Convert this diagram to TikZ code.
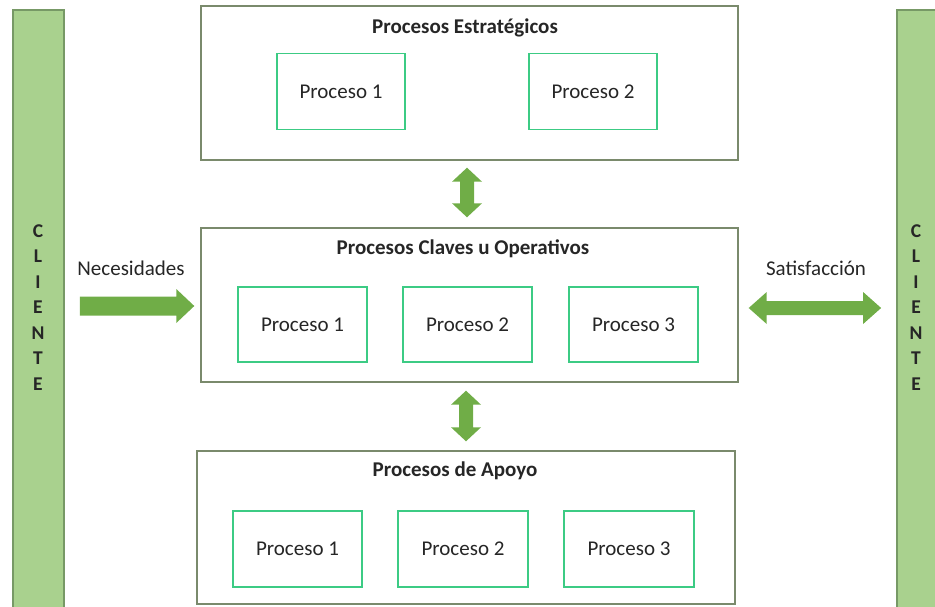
\documentclass[tikz,border=0pt]{standalone}
\usepackage{fontspec}
\setmainfont{Carlito}
\usetikzlibrary{calc}
\definecolor{barfill}{HTML}{A9D18E}
\definecolor{barline}{HTML}{779966}
\definecolor{outerline}{HTML}{7A8A6C}
\definecolor{innerline}{HTML}{3CCB84}
\definecolor{arrowfill}{HTML}{70AD47}
\definecolor{txt}{HTML}{262626}
\tikzset{
  clientbar/.style={draw=barline, line width=1.8pt, fill=barfill, minimum width=51pt, minimum height=600pt, inner sep=0pt},
  clientword/.style={font=\fontsize{19.5}{25.5}\selectfont\bfseries, text=txt, align=center, inner sep=0pt},
  groupbox/.style={draw=outerline, line width=1.4pt, fill=white, minimum width=537pt, minimum height=154pt, inner sep=0pt},
  procbox/.style={draw=innerline, line width=1.3pt, minimum width=128pt, minimum height=76pt, inner sep=0pt,
    font=\fontsize{21}{24}\selectfont, text=txt},
  grouptitle/.style={font=\fontsize{21}{24}\selectfont\bfseries, text=txt, inner sep=0pt},
  flowlabel/.style={font=\fontsize{21}{24}\selectfont, text=txt, inner sep=0pt},
  blockarrow/.style={fill=arrowfill, draw=none},
}
\begin{document}
\begin{tikzpicture}[x=1pt,y=-1pt]
\useasboundingbox (0,0) rectangle (935,607);

% customer bars on both sides
\node[clientbar] (lbar) at (38.5,310) {};
\node[clientbar] (rbar) at (922.5,310) {};
\node[clientword] (lword) at (38,307.5) {C\\L\\I\\E\\N\\T\\E};
\node[clientword] (rword) at (916,307.5) {C\\L\\I\\E\\N\\T\\E};

% strategic processes
\node[groupbox] (top) at (469.5,83) {};
\node[grouptitle] (toptitle) at (465,28) {Procesos Estratégicos};
\node[procbox] (t1) at (341,91.5) {Proceso 1};
\node[procbox] (t2) at (593,91.5) {Proceso 2};

% key / operative processes
\node[groupbox] (mid) at (469.5,305) {};
\node[grouptitle] (midtitle) at (463,249) {Procesos Claves u Operativos};
\node[procbox, minimum width=129pt, minimum height=75pt] (m1) at (302.5,324.5) {Proceso 1};
\node[procbox, minimum width=129pt, minimum height=75pt] (m2) at (467.5,324.5) {Proceso 2};
\node[procbox, minimum width=129pt, minimum height=75pt] (m3) at (633.5,324.5) {Proceso 3};

% support processes
\node[groupbox, minimum width=538pt, minimum height=153pt] (bot) at (466,527.5) {};
\node[grouptitle] (bottitle) at (455,471) {Procesos de Apoyo};
\node[procbox, minimum width=129pt] (b1) at (297.5,549) {Proceso 1};
\node[procbox, minimum width=130pt] (b2) at (463,549) {Proceso 2};
\node[procbox, minimum width=130pt] (b3) at (629,549) {Proceso 3};

% flow labels
\node[flowlabel] (need) at (131,268) {Necesidades};
\node[flowlabel] (sat) at (816,268) {Satisfacción};

% block-arrow end points, taken from the boxes they join
\coordinate (ua) at ($(top.south -| 467,0)+(0,7)$);
\coordinate (ub) at ($(mid.north -| 467,0)+(0,-10)$);
\coordinate (la) at ($(mid.south -| 466,0)+(0,8)$);
\coordinate (lb) at ($(bot.north -| 466,0)+(0,-9)$);
\coordinate (na) at ($(lbar.east |- mid.center)+(15,1)$);
\coordinate (nb) at ($(mid.west |- mid.center)+(-6,1)$);
\coordinate (sa) at ($(mid.east)+(10,3)$);
\coordinate (sb) at ($(rbar.west |- mid.east)+(-15,3)$);

% strategic <-> key
\fill[blockarrow] (ua) -- ($(ua)+(15,14)$) -- ($(ua)+(7,14)$) -- ($(ub)+(7,-14)$) -- ($(ub)+(15,-14)$)
  -- (ub) -- ($(ub)+(-15,-14)$) -- ($(ub)+(-7,-14)$) -- ($(ua)+(-7,14)$) -- ($(ua)+(-15,14)$) -- cycle;
% key <-> support
\fill[blockarrow] (la) -- ($(la)+(15,14)$) -- ($(la)+(7,14)$) -- ($(lb)+(7,-14)$) -- ($(lb)+(15,-14)$)
  -- (lb) -- ($(lb)+(-15,-14)$) -- ($(lb)+(-7,-14)$) -- ($(la)+(-7,14)$) -- ($(la)+(-15,14)$) -- cycle;
% customer needs -> key processes
\fill[blockarrow] ($(na)+(0,-9.5)$) -- ($(nb)+(-18,-9.5)$) -- ($(nb)+(-18,-17)$) -- (nb)
  -- ($(nb)+(-18,17)$) -- ($(nb)+(-18,9.5)$) -- ($(na)+(0,9.5)$) -- cycle;
% key processes <-> customer satisfaction
\fill[blockarrow] (sa) -- ($(sa)+(18,-16)$) -- ($(sa)+(18,-7)$) -- ($(sb)+(-18,-7)$) -- ($(sb)+(-18,-16)$)
  -- (sb) -- ($(sb)+(-18,16)$) -- ($(sb)+(-18,7)$) -- ($(sa)+(18,7)$) -- ($(sa)+(18,16)$) -- cycle;
\end{tikzpicture}
\end{document}
